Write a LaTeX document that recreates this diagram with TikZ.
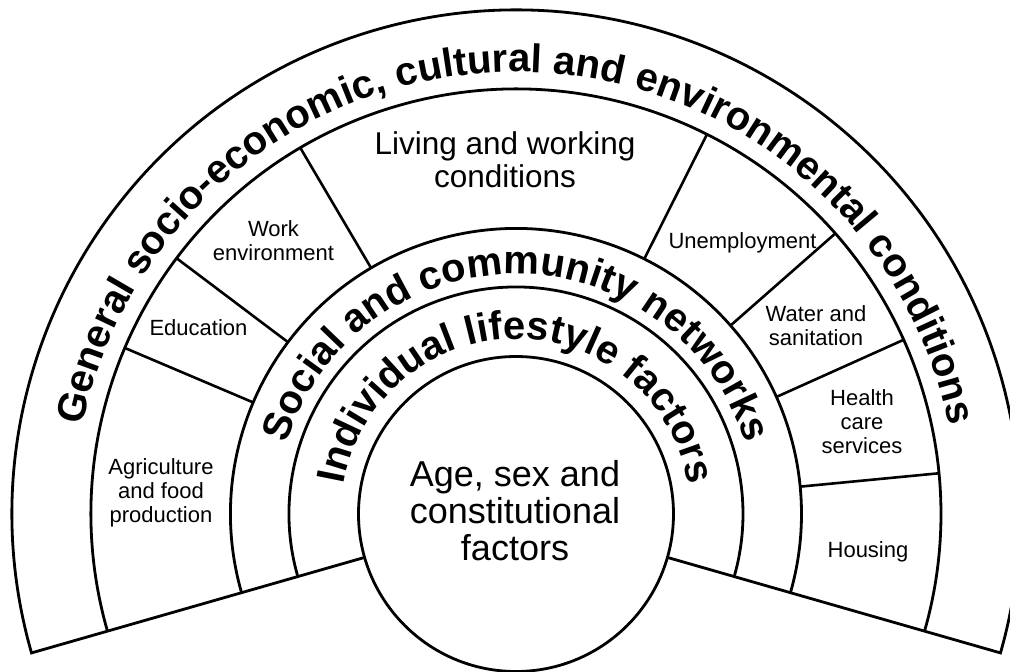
\documentclass[tikz,border=0pt]{standalone}
\usepackage{fontspec}
\setmainfont{Liberation Sans}
\usetikzlibrary{decorations.text}

\newcommand{\bandfont}{\bfseries\fontsize{40}{40}\selectfont}

\begin{document}
\begin{tikzpicture}[
    x=1pt, y=1pt,
    ring/.style={line width=2.8pt, line join=miter},
    spoke/.style={line width=2.6pt},
    lbl/.style={align=center, inner sep=0pt,
                font=\fontsize{22}{24}\selectfont},
    biglbl/.style={align=center, inner sep=0pt,
                   font=\fontsize{31.5}{33}\selectfont},
    corelbl/.style={align=center, inner sep=0pt,
                    font=\fontsize{36}{37}\selectfont},
    bandtext/.style={decorate, decoration={text along path,
                     text align=center, text={#1}}},
]

% ---------------------------------------------------------------------------
%  Page frame
% ---------------------------------------------------------------------------
\useasboundingbox (-516,-158) rectangle (494,514);
\fill[white] (-516,-158) rectangle (494,514);

% ---------------------------------------------------------------------------
%  Rings of the fan
% ---------------------------------------------------------------------------
\draw[ring] (196:157.5pt) -- (196:504pt)
    arc[start angle=196, end angle=-16, radius=504pt] -- (-16:157.5pt);
\draw[ring] (196:425pt) arc[start angle=196, end angle=-16, radius=425pt];
\draw[ring] (196:285.5pt) arc[start angle=196, end angle=-16, radius=285.5pt];
\draw[ring] (196:227pt) arc[start angle=196, end angle=-16, radius=227pt];

% Centre circle
\draw[ring, fill=white] (0,0) circle[radius=157.5pt];

% Spokes of the layer band
\foreach \a in {157,143,120.5,63.3,41.3,24.2,5.5}
    \draw[spoke] (\a:285.5pt) -- (\a:425pt);

% ---------------------------------------------------------------------------
%  Curved band titles
% ---------------------------------------------------------------------------
\path[bandtext={|\bandfont|General socio-economic, cultural and environmental conditions}]
    (180:442pt) arc[start angle=180, end angle=0, radius=442pt];
\path[bandtext={|\bandfont|Social and community networks}]
    (180:240pt) arc[start angle=180, end angle=0, radius=240pt];
\path[bandtext={|\bandfont|Individual lifestyle factors}]
    (180:175pt) arc[start angle=180, end angle=0, radius=175pt];

% ---------------------------------------------------------------------------
%  Layer labels
% ---------------------------------------------------------------------------
\node[corelbl] (core) at (-1,3) {Age, sex and\\constitutional\\factors};
\node[biglbl] (living) at (-11,354) {Living and working\\conditions};
\node[lbl] (work) at (-242.5,273.5) {Work\\environment};
\node[lbl] (edu) at (-317.5,186) {Education};
\node[lbl] (agri) at (-355,21) {Agriculture\\and food\\production};
\node[lbl] (unemp) at (226.5,271.5) {Unemployment};
\node[lbl] (water) at (300,188.5) {Water and\\sanitation};
\node[lbl] (health) at (346,92) {Health\\care\\services};
\node[lbl] (housing) at (352,-37.5) {Housing};

\end{tikzpicture}
\end{document}
